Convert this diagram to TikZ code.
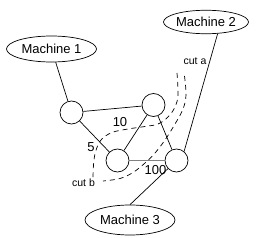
\documentclass[tikz,border=0pt]{standalone}
\usepackage{fontspec}
\setmainfont{Liberation Sans}
\usetikzlibrary{shapes,positioning}

\begin{document}
\begin{tikzpicture}[
    x=1pt, y=-1pt,
    machine/.style={ellipse, draw=black, line width=0.7pt, minimum width=88pt,
                    minimum height=26pt, inner sep=0pt, font=\fontsize{13}{15}\selectfont},
    hub/.style={circle, draw=black, line width=0.7pt, minimum size=23pt, inner sep=0pt},
    link/.style={draw=black, line width=0.7pt},
    heavy/.style={draw=black!50, line width=1.5pt},
    cutline/.style={draw=black, line width=0.7pt, dash pattern=on 5pt off 4pt},
    wt/.style={font=\fontsize{13}{15}\selectfont, inner sep=0pt},
    cutlbl/.style={font=\fontsize{10.5}{12}\selectfont, inner sep=0pt},
  ]
  \useasboundingbox (0,0) rectangle (260,238);
  % machines
  \node[machine, minimum width=90pt] (m1) at (51.5,49) {Machine 1};
  \node[machine, minimum width=85pt, minimum height=23.5pt] (m2) at (206,22) {Machine 2};
  \node[machine, minimum width=90pt, minimum height=30pt] (m3) at (130,220) {Machine 3};
  % network nodes
  \node[hub] (c1) at (71.5,112.5) {};
  \node[hub] (c2) at (153.5,105) {};
  \node[hub] (c3) at (117.5,160.5) {};
  \node[hub] (c4) at (176.5,160.5) {};
  % links
  \draw[link] (m1) -- (c1);
  \draw[link] (m2.-45) -- (c4.50);
  \draw[link] (m3.north) -- (c4);
  \draw[link] (c1) -- (c2);
  \draw[link] (c1) -- (c3);
  \draw[link] (c2) -- (c3);
  \draw[link] (c2) -- (c4);
  \draw[heavy] (c3) -- (c4);
  % weights
  \node[wt] (w10) at (120,122) {10};
  \node[wt] (w5) at (91,147) {5};
  \node[wt] (w100) at (155.5,170.5) {100};
  % cuts
  \draw[cutline] plot[smooth, tension=0.6] coordinates {(177,73) (178,95) (175,107) (168,117) (158,124) (145,126.5) (128,129) (112,132.5) (101,140) (95.5,152) (93.5,165) (93,179)};
  \draw[cutline] plot[smooth, tension=0.6] coordinates {(184.5,76) (186,95) (183,109) (175,124) (165,140) (155,153) (145,163) (133,172.5) (120,178.5) (103,181)};
  \node[cutlbl] (cuta) at (195,61) {cut a};
  \node[cutlbl] (cutb) at (83.5,182.5) {cut b};
\end{tikzpicture}
\end{document}
